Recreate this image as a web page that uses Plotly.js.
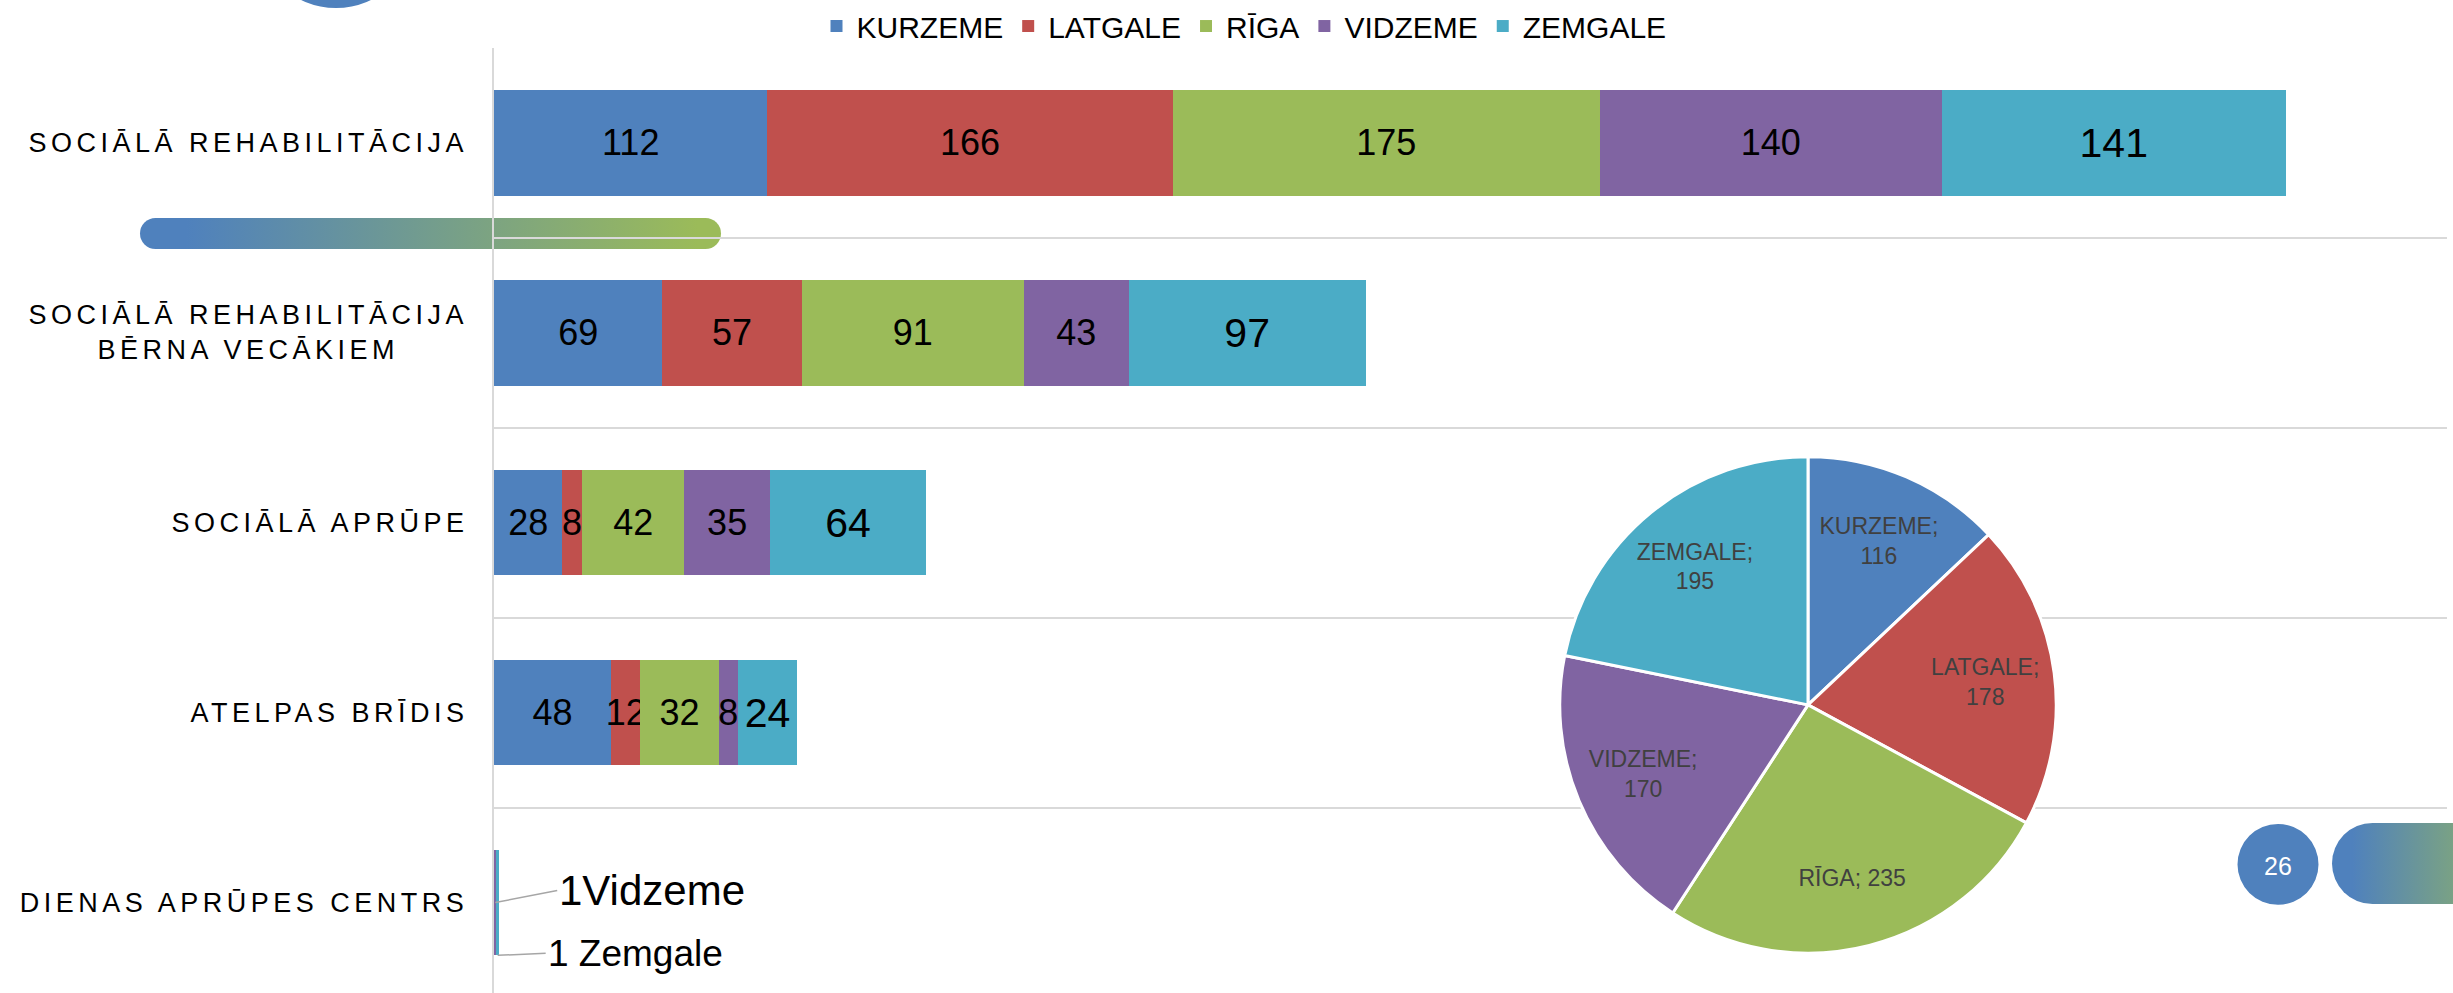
<!DOCTYPE html>
<html>
<head>
<meta charset="utf-8">
<script src="https://cdn.plot.ly/plotly-3.0.1.min.js"></script>
<style>
html, body { margin: 0; padding: 0; background: #ffffff; }
#wrap { position: relative; width: 2453px; height: 993px; overflow: hidden; background: #ffffff; }
#chart { position: absolute; left: 0; top: 0; width: 2453px; height: 993px; z-index: 1; }
.deco { position: absolute; z-index: 0; }
#deco1 { left: 140px; top: 218px; width: 581px; height: 31px; border-radius: 15.5px;
         background: linear-gradient(90deg, #4F81BD 8%, #9BBB59 96%); }
#deco2 { left: 2332px; top: 823px; width: 200px; height: 81px; border-radius: 40.5px;
         background: linear-gradient(90deg, #4F81BD 10%, #9BBB59 100%); }
</style>
</head>
<body>
<div id="wrap">
  <div id="deco1" class="deco"></div>
  <div id="deco2" class="deco"></div>
  <div id="chart"></div>
</div>
<script>
// ---------------- DATA ----------------
const categories = [
  'SOCIĀLĀ REHABILITĀCIJA',
  'SOCIĀLĀ REHABILITĀCIJA BĒRNA VECĀKIEM',
  'SOCIĀLĀ APRŪPE',
  'ATELPAS BRĪDIS',
  'DIENAS APRŪPES CENTRS'
];
const categoryLabels = [
  'SOCIĀLĀ REHABILITĀCIJA',
  'SOCIĀLĀ REHABILITĀCIJA<br>BĒRNA VECĀKIEM',
  'SOCIĀLĀ APRŪPE',
  'ATELPAS BRĪDIS',
  'DIENAS APRŪPES CENTRS'
];
const regions = ['KURZEME', 'LATGALE', 'RĪGA', 'VIDZEME', 'ZEMGALE'];
const kurzeme = [112, 69, 28, 48, 0];
const latgale = [166, 57, 8, 12, 0];
const riga    = [175, 91, 42, 32, 0];
const vidzeme = [140, 43, 35, 8, 1];
const zemgale = [141, 97, 64, 24, 1];
// outside labels for the tiny "DIENAS APRŪPES CENTRS" segments
const dacOutsideLabels = ['', '', '', '1Vidzeme', '1 Zemgale'];
// pie
const pieLabels = ['KURZEME', 'LATGALE', 'RĪGA', 'VIDZEME', 'ZEMGALE'];
const pieValues = [116, 178, 235, 170, 195];
const pageNumber = '26';

// ---------------- STYLE ----------------
const W = 2453, H = 993;
const FONT = '"Liberation Sans", Arial, Helvetica, sans-serif';
const colors = ['#4F81BD', '#C0504D', '#9BBB59', '#8064A2', '#4BACC6'];
const labelSizes = [36, 36, 36, 36, 41];
const series = [kurzeme, latgale, riga, vidzeme, zemgale];
const plotLeft = 494, plotRight = 2447, plotTop = 45, band = 190.5;
const bargap = 0.444;
const LS = 4.5; // letter spacing of the category labels (px)

// letter spacing for category labels (annotations 0..n-1)
(function () {
  let css = '';
  categories.forEach((c, i) => {
    css += '.annotation[data-index="' + i + '"] text { letter-spacing: ' + LS + 'px; }\n';
  });
  const st = document.createElement('style');
  st.textContent = css;
  document.head.appendChild(st);
})();

const lastIdx = categories.length - 1;

const traces = series.map((vals, s) => ({
  type: 'bar',
  orientation: 'h',
  name: regions[s],
  y: categories,
  x: vals,
  marker: { color: colors[s], line: { width: 0 } },
  text: vals.map((v, i) => (i === lastIdx ? '' : String(v))),
  textposition: 'inside',
  insidetextanchor: 'middle',
  textangle: 0,
  constraintext: 'none',
  insidetextfont: { family: FONT, size: labelSizes[s], color: '#000000' },
  cliponaxis: false,
  hoverinfo: 'skip'
}));

const pieDomain = {
  x: [(1808 - 249) / W, (1808 + 249) / W],
  y: [(H - 704 - 249) / H, (H - 704 + 249) / H]
};
// the pie itself
traces.push({
  type: 'pie',
  labels: pieLabels,
  values: pieValues,
  sort: false,
  direction: 'clockwise',
  rotation: 0,
  marker: { colors: colors, line: { color: '#ffffff', width: 3 } },
  textinfo: 'none',
  showlegend: false,
  hoverinfo: 'skip',
  domain: pieDomain
});
// transparent ring on top that carries the slice labels further out
traces.push({
  type: 'pie',
  labels: pieLabels,
  values: pieValues,
  sort: false,
  direction: 'clockwise',
  rotation: 0,
  hole: 0.44,
  marker: { colors: pieLabels.map(() => 'rgba(0,0,0,0)'), line: { width: 0 } },
  texttemplate: pieLabels.map(l => (l === 'RĪGA' ? '%{label}; %{value}' : '%{label};<br>%{value}')),
  textposition: 'inside',
  insidetextorientation: 'horizontal',
  textfont: { family: FONT, size: 23, color: '#404040' },
  showlegend: false,
  hoverinfo: 'skip',
  domain: pieDomain
});

// category label annotations (right-aligned block, centred lines)
const annotations = categories.map((c, i) => {
  const n = Math.max(...categoryLabels[i].split('<br>').map(s => Array.from(s).length));
  return {
    xref: 'paper', yref: 'y',
    x: 466 / W, y: i,
    xanchor: 'right', yanchor: 'middle',
    xshift: -LS * (n / 2 - 1),
    text: categoryLabels[i],
    align: 'center',
    showarrow: false,
    font: { family: FONT, size: 27, color: '#000000' }
  };
});

// outside labels with leader lines for the last category
const halfBar = (1 - bargap) / 2;
const vIdx = regions.indexOf('VIDZEME'), zIdx = regions.indexOf('ZEMGALE');
const vStart = series.slice(0, vIdx).reduce((a, s) => a + s[lastIdx], 0);
const zStart = series.slice(0, zIdx).reduce((a, s) => a + s[lastIdx], 0);
annotations.push({
  xref: 'x', yref: 'y',
  x: vStart + vidzeme[lastIdx] / 2, y: lastIdx,
  text: dacOutsideLabels[vIdx],
  showarrow: true, arrowhead: 0, arrowwidth: 1.5, arrowcolor: '#a6a6a6', standoff: 0,
  ax: 62, ay: -12, xanchor: 'left', yanchor: 'middle',
  font: { family: FONT, size: 42, color: '#000000' }
});
annotations.push({
  xref: 'x', yref: 'y',
  x: zStart + zemgale[lastIdx] / 2, y: lastIdx + halfBar,
  text: dacOutsideLabels[zIdx],
  showarrow: true, arrowhead: 0, arrowwidth: 1.5, arrowcolor: '#a6a6a6', standoff: 0,
  ax: 48, ay: -2, xanchor: 'left', yanchor: 'middle',
  font: { family: FONT, size: 37, color: '#000000' }
});
// page number
annotations.push({
  xref: 'paper', yref: 'paper',
  x: 2278 / W, y: (H - 866) / H,
  text: pageNumber, showarrow: false,
  xanchor: 'center', yanchor: 'middle',
  font: { family: FONT, size: 25, color: '#ffffff' }
});

const shapes = [
  { type: 'circle', xref: 'paper', yref: 'paper', layer: 'above',
    x0: (2278 - 40.5) / W, x1: (2278 + 40.5) / W,
    y0: (H - 864 - 40.5) / H, y1: (H - 864 + 40.5) / H,
    fillcolor: '#4F81BD', line: { width: 0 } },
  { type: 'circle', xref: 'paper', yref: 'paper', layer: 'above',
    x0: (336 - 80) / W, x1: (336 + 80) / W,
    y0: (H + 75 - 80) / H, y1: (H + 75 + 80) / H,
    fillcolor: '#4F81BD', line: { width: 0 } }
];

const layout = {
  width: W, height: H,
  margin: { l: 0, r: 0, t: 0, b: 0, pad: 0 },
  paper_bgcolor: 'rgba(0,0,0,0)',
  plot_bgcolor: 'rgba(0,0,0,0)',
  font: { family: FONT, color: '#000000' },
  barmode: 'stack',
  bargap: bargap,
  showlegend: true,
  legend: {
    orientation: 'h', x: 1244 / W, xanchor: 'center', y: 1.003, yanchor: 'top',
    font: { family: FONT, size: 30, color: '#000000' },
    bgcolor: 'rgba(0,0,0,0)', traceorder: 'normal'
  },
  xaxis: {
    domain: [plotLeft / W, plotRight / W],
    range: [0, 800],
    showgrid: false, zeroline: false, showticklabels: false, showline: false,
    ticks: '', fixedrange: true
  },
  yaxis: {
    domain: [0, (H - plotTop) / H],
    type: 'category',
    categoryorder: 'array', categoryarray: categories,
    range: [-0.5 + (H - plotTop) / band, -0.5],
    tickson: 'boundaries',
    showgrid: true, gridcolor: '#d9d9d9', gridwidth: 2,
    showticklabels: false, ticks: '',
    showline: true, linecolor: '#d9d9d9', linewidth: 2,
    zeroline: false, fixedrange: true
  },
  annotations: annotations,
  shapes: shapes
};

Plotly.newPlot('chart', traces, layout, { displayModeBar: false, staticPlot: true });
</script>
</body>
</html>
